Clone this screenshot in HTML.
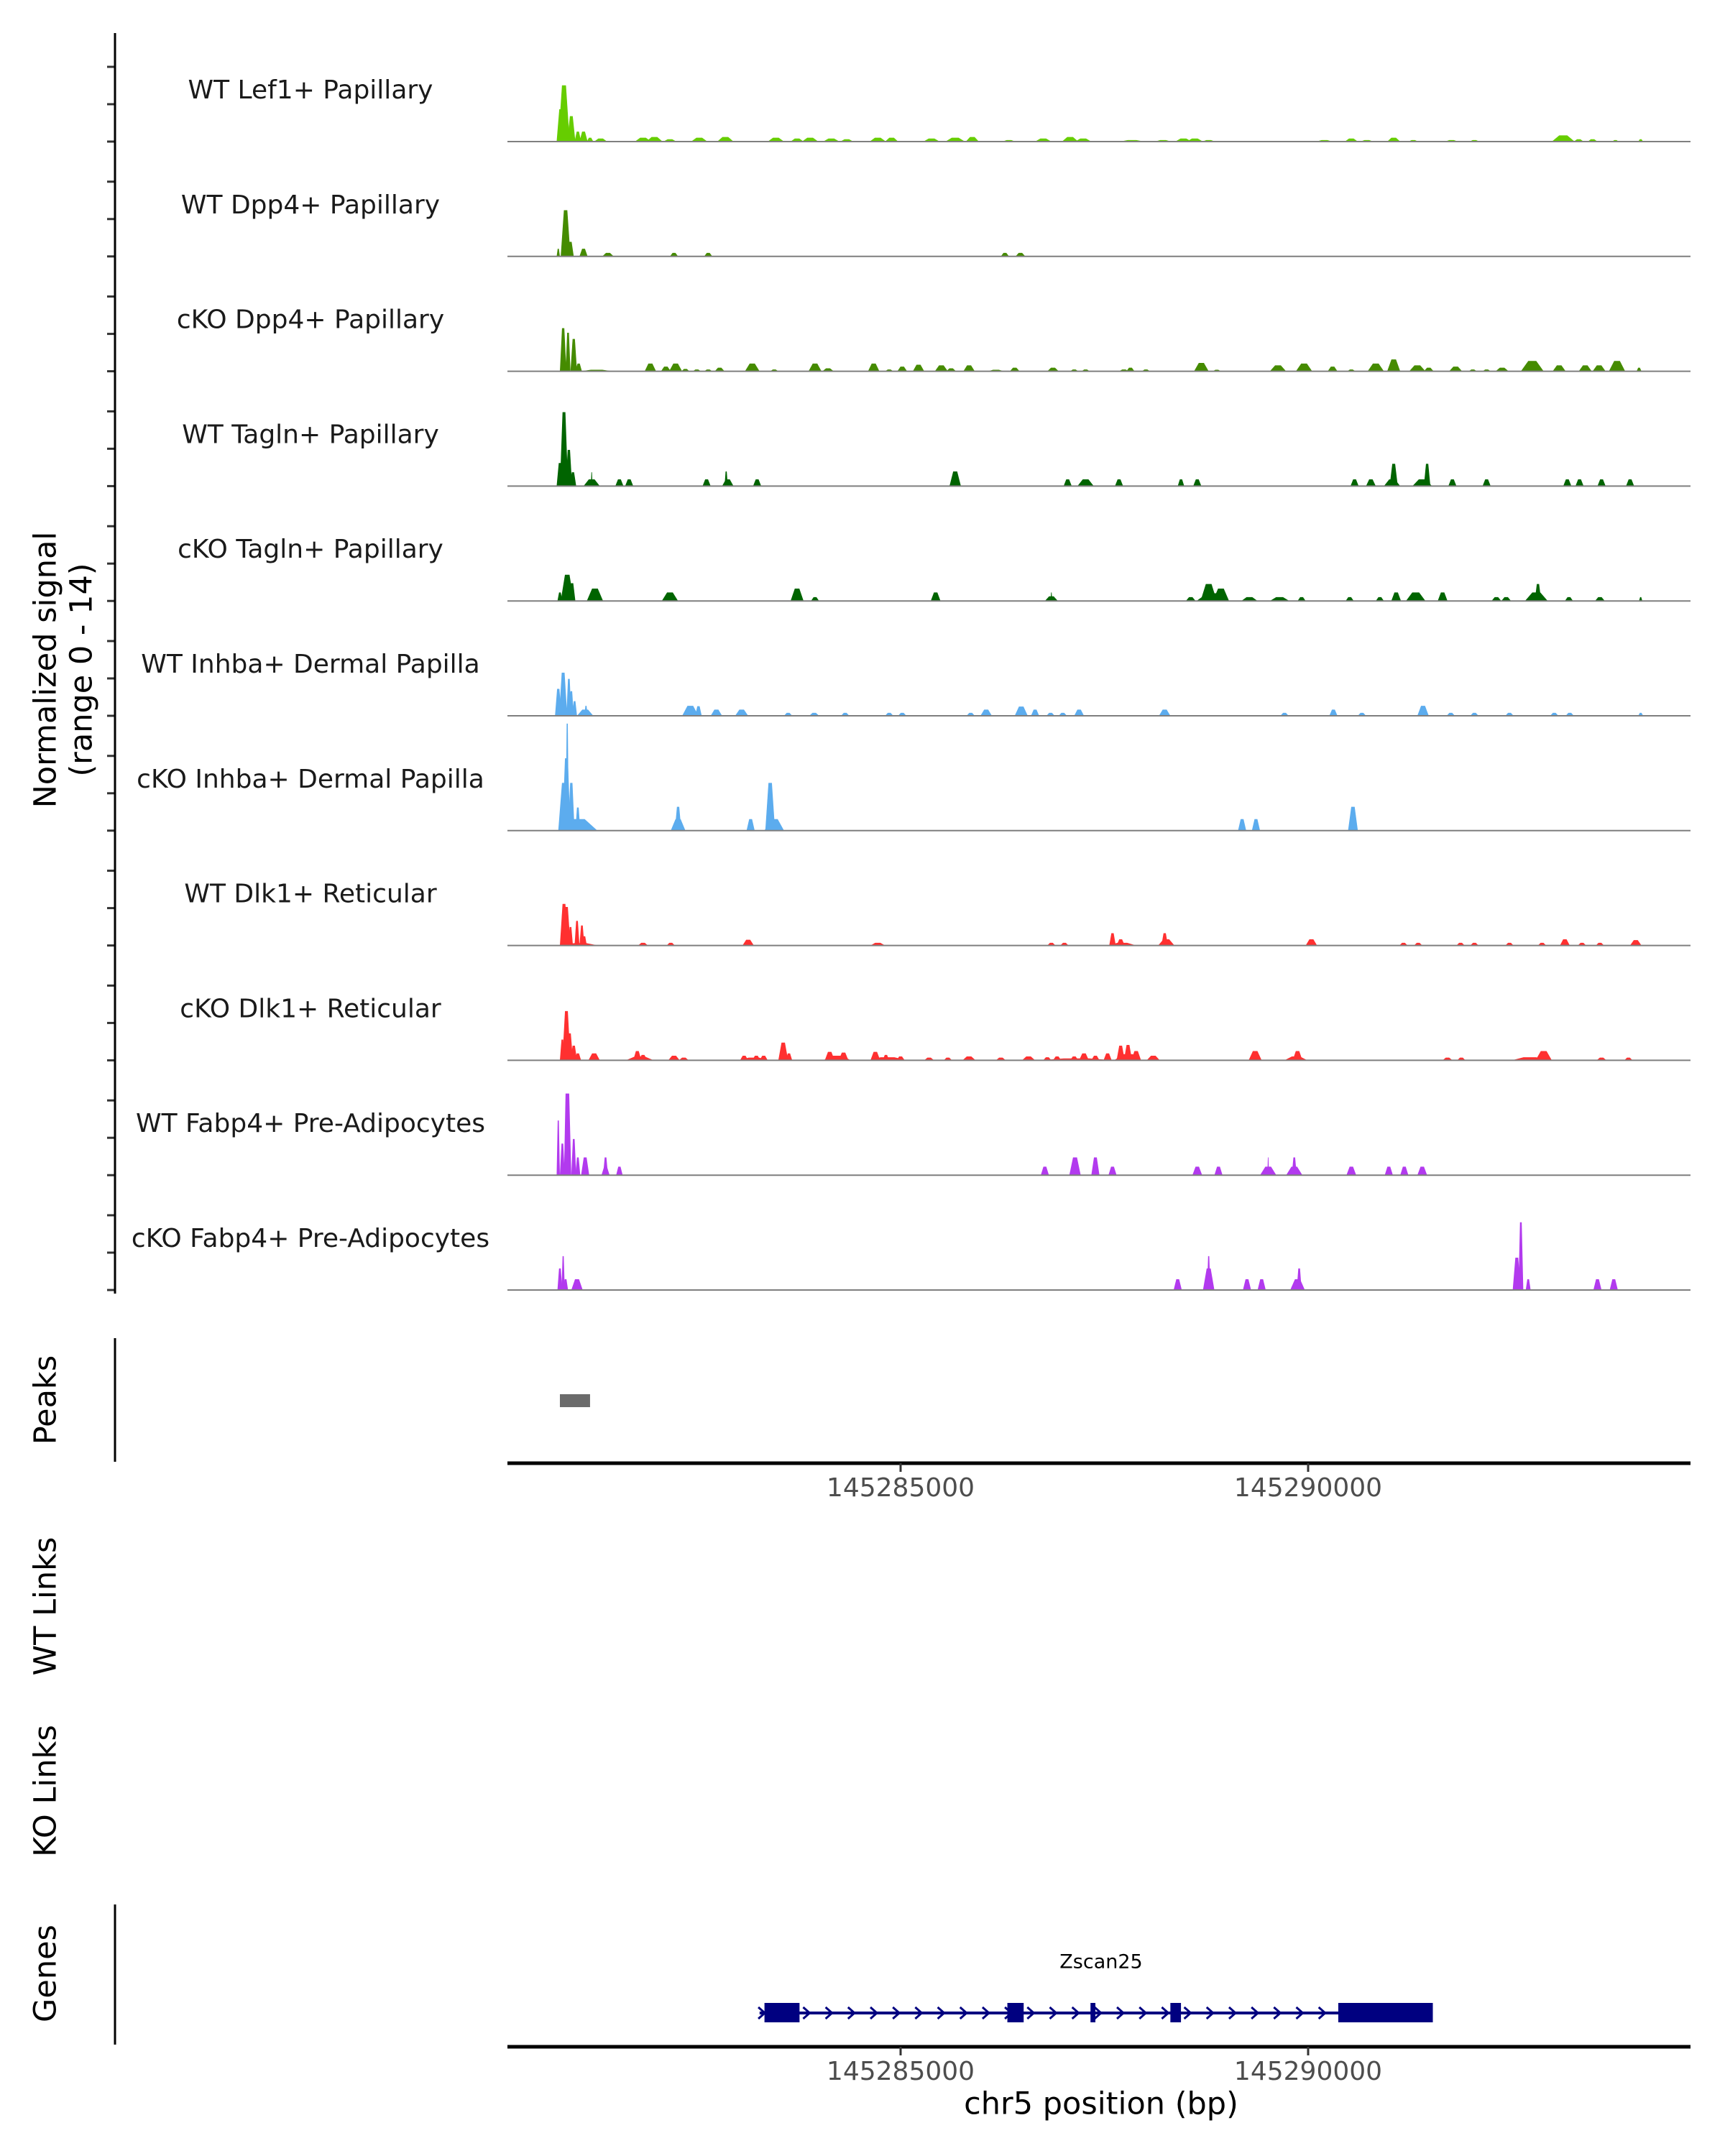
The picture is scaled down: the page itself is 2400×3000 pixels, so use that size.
<!DOCTYPE html>
<html><head><meta charset="utf-8"><style>
html,body{margin:0;padding:0;background:#fff;}
svg{display:block;font-family:"DejaVu Sans","Liberation Sans",sans-serif;}
</style></head><body>
<svg id="chart" width="2400" height="3000" viewBox="0 0 2400 3000" xmlns="http://www.w3.org/2000/svg">
<g id="tracks"></g>
<g id="axes"></g>
</svg>
<script>
// Genomic positions in kb relative to chr5:145,280,000
const trackNames = ["WT Lef1+ Papillary","WT Dpp4+ Papillary","cKO Dpp4+ Papillary","WT Tagln+ Papillary","cKO Tagln+ Papillary","WT Inhba+ Dermal Papilla","cKO Inhba+ Dermal Papilla","WT Dlk1+ Reticular","cKO Dlk1+ Reticular","WT Fabp4+ Pre-Adipocytes","cKO Fabp4+ Pre-Adipocytes"];
const trackColors = ["#66cd00","#458b00","#458b00","#006400","#006400","#5cacee","#5cacee","#ff3030","#ff3030","#b23aee","#b23aee"];
const xTicks = [5, 10];
const xTickLabels = ["145285000","145290000"];
const yRangeMax = 14;

const t1Pos = [0.87,0.83,0.96,1.04,1.11,1.19,1.32,1.84,1.98,2.17,2.53,2.85,3.47,3.73,3.89,4.15,4.34,4.72,4.89,5.38,5.67,5.88,6.33,6.75,7.08,7.24,7.84,8.22,8.47,8.61,8.78,10.2,10.53,10.72,11.05,11.29,11.76,12.04,13.13,13.32,13.49,13.77,14.08];
const t1Wid = [0.07,0.05,0.05,0.04,0.05,0.04,0.08,0.1,0.1,0.08,0.1,0.1,0.1,0.08,0.1,0.1,0.08,0.1,0.08,0.1,0.12,0.08,0.08,0.1,0.1,0.1,0.15,0.1,0.1,0.1,0.08,0.1,0.08,0.08,0.08,0.06,0.08,0.06,0.14,0.06,0.06,0.04,0.03];
const t1Val = [7.3,4.2,3.3,1.3,1.3,0.5,0.4,0.5,0.6,0.3,0.5,0.6,0.5,0.4,0.5,0.4,0.3,0.5,0.5,0.4,0.5,0.6,0.2,0.4,0.6,0.4,0.2,0.2,0.4,0.4,0.2,0.2,0.4,0.2,0.5,0.2,0.2,0.2,0.8,0.3,0.3,0.2,0.3];

const t2Pos = [0.89,0.80,0.95,1.11,1.41,2.22,2.64,6.28,6.47];
const t2Wid = [0.06,0.02,0.04,0.05,0.07,0.05,0.05,0.05,0.06];
const t2Val = [6.0,1.0,1.9,1.0,0.46,0.46,0.46,0.46,0.46];

const t3Pos = [0.86,0.92,0.99,1.05,1.27,1.93,2.12,2.24,2.36,2.50,2.64,2.78,3.18,3.45,3.95,4.11,4.67,4.86,5.02,5.22,5.50,5.62,5.84,6.17,6.40,6.87,7.13,7.27,7.74,7.82,8.01,8.69,8.88,9.63,9.95,10.30,10.53,10.83,11.05,11.34,11.48,11.81,12.02,12.19,12.38,12.75,13.08,13.40,13.57,13.79,14.06];
const t3Wid = [0.04,0.03,0.04,0.04,0.2,0.07,0.06,0.08,0.05,0.05,0.05,0.06,0.09,0.05,0.08,0.07,0.07,0.05,0.06,0.07,0.08,0.06,0.07,0.1,0.06,0.07,0.05,0.05,0.06,0.05,0.05,0.09,0.05,0.1,0.1,0.06,0.05,0.1,0.08,0.1,0.06,0.08,0.05,0.05,0.08,0.14,0.08,0.08,0.08,0.1,0.03];
const t3Val = [5.6,5.0,4.2,1.0,0.2,1.0,0.6,1.0,0.3,0.23,0.23,0.46,1.0,0.23,1.0,0.38,1.0,0.23,0.6,0.85,0.77,0.38,0.77,0.2,0.46,0.46,0.23,0.23,0.23,0.46,0.23,1.08,0.2,0.77,1.0,0.6,0.23,1.0,1.54,0.77,0.46,0.6,0.23,0.23,0.46,1.34,0.77,0.77,0.77,1.34,0.46];

const t4Pos = [0.87,0.82,0.93,0.98,1.21,1.21,1.55,1.67,2.62,2.88,2.86,3.24,5.67,7.05,7.27,7.68,8.44,8.64,10.57,10.77,11.03,11.05,11.40,11.46,11.77,12.19,13.18,13.33,13.60,13.95];
const t4Wid = [0.05,0.04,0.04,0.04,0.1,0.01,0.05,0.05,0.05,0.07,0.02,0.05,0.07,0.05,0.1,0.05,0.04,0.05,0.05,0.06,0.1,0.05,0.12,0.04,0.05,0.05,0.05,0.05,0.05,0.05];
const t4Val = [9.6,3.0,4.7,1.8,0.88,1.8,0.88,0.88,0.88,0.88,1.9,0.88,1.9,0.88,0.88,0.88,0.88,0.88,0.88,0.88,0.88,2.9,0.88,2.9,0.88,0.88,0.88,0.88,0.88,0.88];

const t5Pos = [0.91,0.97,0.82,1.25,2.17,3.73,3.95,5.43,6.85,6.85,8.56,8.78,8.93,8.83,9.28,9.65,9.92,10.51,10.88,11.08,11.32,11.65,12.31,12.43,12.80,12.82,13.20,13.58,14.08];
const t5Wid = [0.08,0.04,0.03,0.1,0.1,0.08,0.05,0.06,0.08,0.01,0.06,0.1,0.1,0.2,0.1,0.12,0.05,0.05,0.05,0.06,0.12,0.06,0.06,0.06,0.14,0.04,0.05,0.06,0.02];
const t5Val = [3.4,2.3,1.1,1.6,1.1,1.6,0.5,1.1,0.6,1.1,0.5,2.2,1.6,1.0,0.5,0.5,0.5,0.5,0.5,1.1,1.1,1.1,0.5,0.5,1.1,2.2,0.5,0.5,0.5];

const t6Pos = [0.86,0.80,0.93,0.96,1.00,1.13,1.14,2.42,2.52,2.74,3.05,3.62,3.94,4.32,4.86,5.02,5.86,6.05,6.48,6.65,6.84,6.99,7.19,8.24,9.71,10.31,10.66,11.41,11.75,12.04,12.47,13.02,13.21,14.08];
const t6Wid = [0.05,0.04,0.03,0.03,0.03,0.1,0.02,0.1,0.04,0.07,0.08,0.05,0.06,0.05,0.05,0.05,0.05,0.07,0.08,0.05,0.05,0.05,0.06,0.07,0.05,0.05,0.05,0.07,0.05,0.05,0.05,0.05,0.05,0.03];
const t6Val = [5.6,3.5,4.8,3.2,1.9,0.8,1.3,1.3,1.25,0.8,0.8,0.38,0.38,0.38,0.38,0.38,0.38,0.8,1.2,0.8,0.38,0.38,0.8,0.8,0.38,0.8,0.38,1.3,0.38,0.38,0.38,0.38,0.38,0.38];

const t7Pos = [1.04,0.91,0.90,0.87,0.96,1.04,2.27,2.27,3.16,3.45,3.40,9.19,9.36,10.55];
const t7Wid = [0.24,0.02,0.05,0.07,0.04,0.03,0.09,0.04,0.05,0.12,0.06,0.05,0.05,0.06];
const t7Val = [1.5,13.9,9.4,6.2,6.2,3.0,1.5,3.1,1.5,1.5,6.2,1.5,1.5,3.1];

const t8Pos = [0.87,0.90,0.95,1.03,1.09,1.12,1.07,1.84,2.18,3.13,3.13,4.72,6.85,7.01,7.60,7.70,7.72,8.24,8.26,10.04,11.17,11.35,11.87,12.04,12.47,12.87,13.15,13.36,13.58,14.02];
const t8Wid = [0.05,0.05,0.03,0.03,0.03,0.03,0.22,0.06,0.05,0.07,0.03,0.09,0.05,0.05,0.04,0.05,0.17,0.04,0.1,0.07,0.05,0.05,0.05,0.05,0.05,0.05,0.06,0.05,0.05,0.07];
const t8Val = [5.4,5.0,2.4,3.2,2.6,1.2,0.3,0.35,0.35,0.75,0.35,0.35,0.35,0.35,1.6,0.8,0.35,1.6,0.8,0.8,0.35,0.35,0.35,0.35,0.35,0.35,0.8,0.35,0.35,0.7];

const t9Pos = [0.85,0.90,0.94,0.99,1.04,1.24,1.77,1.84,1.80,2.22,2.34,3.08,3.23,3.32,3.20,3.56,3.63,4.13,4.30,4.22,4.69,4.84,4.82,5.00,5.35,5.58,5.84,6.23,6.57,6.80,6.92,7.13,7.25,7.39,7.54,7.16,7.70,7.79,7.89,7.79,8.10,9.35,9.87,9.85,11.71,11.88,12.72,12.89,13.60,13.93];
const t9Wid = [0.03,0.05,0.04,0.04,0.04,0.07,0.05,0.05,0.17,0.07,0.06,0.05,0.05,0.05,0.18,0.06,0.04,0.06,0.06,0.17,0.06,0.24,0.04,0.05,0.06,0.05,0.08,0.06,0.08,0.05,0.05,0.05,0.06,0.05,0.05,0.45,0.05,0.05,0.06,0.17,0.08,0.08,0.06,0.14,0.06,0.05,0.22,0.1,0.06,0.05];
const t9Val = [2.7,6.4,3.5,1.9,0.9,0.9,1.2,0.7,0.5,0.6,0.35,0.6,0.6,0.6,0.35,2.3,0.9,1.1,1.0,0.6,1.1,0.4,0.7,0.5,0.35,0.35,0.5,0.35,0.5,0.4,0.5,0.5,0.9,0.6,0.9,0.25,1.9,2.0,1.2,0.8,0.6,1.2,1.2,0.5,0.35,0.35,0.4,1.2,0.35,0.35];

const t10Pos = [0.80,0.85,0.90,0.92,0.99,1.04,1.13,1.38,1.38,1.55,6.77,7.14,7.39,7.60,8.64,8.90,9.51,9.51,9.83,9.83,10.53,10.99,11.18,11.40];
const t10Wid = [0.02,0.03,0.03,0.04,0.03,0.03,0.05,0.05,0.03,0.04,0.05,0.07,0.05,0.05,0.06,0.05,0.1,0.01,0.1,0.03,0.06,0.05,0.05,0.06];
const t10Val = [7.1,4.1,10.6,10.6,4.7,2.3,2.3,1.1,2.3,1.1,1.1,2.3,2.3,1.1,1.1,1.1,1.1,2.3,1.1,2.3,1.1,1.1,1.1,1.1];

const t11Pos = [0.82,0.86,0.89,1.03,8.40,8.78,8.78,9.25,9.43,9.87,9.89,12.61,12.56,12.70,13.55,13.75];
const t11Wid = [0.03,0.02,0.03,0.07,0.05,0.07,0.02,0.05,0.05,0.09,0.03,0.03,0.05,0.03,0.05,0.05];
const t11Val = [2.8,4.4,1.4,1.4,1.4,2.8,4.4,1.4,1.4,1.4,2.8,8.8,4.2,1.4,1.4,1.4];

const peakStarts = [0.82];
const peakEnds = [1.19];

const geneName = "Zscan25";
const geneStart = 3.27, geneEnd = 11.53;
const exonStarts = [3.33,6.31,7.33,8.31,10.37];
const exonEnds = [3.76,6.51,7.39,8.44,11.53];

const trackPos = [t1Pos,t2Pos,t3Pos,t4Pos,t5Pos,t6Pos,t7Pos,t8Pos,t9Pos,t10Pos,t11Pos];
const trackWid = [t1Wid,t2Wid,t3Wid,t4Wid,t5Wid,t6Wid,t7Wid,t8Wid,t9Wid,t10Wid,t11Wid];
const trackVal = [t1Val,t2Val,t3Val,t4Val,t5Val,t6Val,t7Val,t8Val,t9Val,t10Val,t11Val];

const NS = "http://www.w3.org/2000/svg";
const X0 = 706, X1 = 2352;
function xs(kb){ return 1253 + (kb - 5) * 113.4; }
const pxPerUnit = 150 / yRangeMax;
function baseY(i){ return 197 + i * 159.8; }
function mk(tag, attrs, parent){
  const e = document.createElementNS(NS, tag);
  for (const k in attrs) e.setAttribute(k, attrs[k]);
  parent.appendChild(e);
  return e;
}
const tracks = document.getElementById('tracks');
const axes = document.getElementById('axes');

trackNames.forEach((name, i) => {
  const by = baseY(i);
  const g = mk('g', {}, tracks);
  
  
  const lbl = mk('text', {x:432, y:by-70, 'text-anchor':'middle', 'dominant-baseline':'middle', 'font-size':36, fill:'#1a1a1a'}, g);
  lbl.textContent = name;
  
  
  const P = trackPos[i], W = trackWid[i], V = trackVal[i];
  for (let j = 0; j < P.length; j++) {
    const xl = xs(P[j] - W[j]), xr = xs(P[j] + W[j]);
    const xm1 = xs(P[j] - W[j]*0.35), xm2 = xs(P[j] + W[j]*0.35);
    const h = V[j] * pxPerUnit;
    const poly = mk('polygon', {points: `${xl},${by} ${xm1},${by-h} ${xm2},${by-h} ${xr},${by}`, fill: trackColors[i]}, g);
    
    
  }
  const bl = mk('line', {x1:X0, x2:X1, y1:by, y2:by, stroke:'#7f7f7f', 'stroke-width':2}, g);
  
  
  [0, 52, 104].forEach(o => {
    const t = mk('line', {x1:149, x2:160, y1:by-o, y2:by-o, stroke:'#333', 'stroke-width':3}, axes);
    
    
  });
});

function vline(y1, y2, name){
  const l = mk('line', {x1:160, x2:160, y1:y1, y2:y2, stroke:'#000', 'stroke-width':3}, axes);
  
  
}
vline(46, 1800, 'signal-y-axis');
vline(1862, 2034, 'peaks-y-axis');
vline(2650, 2845, 'genes-y-axis');

function rtext(x, y, s, name){
  const t = mk('text', {x:x, y:y, transform:`rotate(-90 ${x} ${y})`, 'text-anchor':'middle', 'dominant-baseline':'middle', 'font-size':43, fill:'#000'}, axes);
  t.textContent = s;
  
  
}
rtext(66, 932, 'Normalized signal', 'y-axis-title');
rtext(116, 932, '(range 0 - 14)', 'y-axis-subtitle');
rtext(66, 1948, 'Peaks', 'peaks-title');
rtext(66, 2235, 'WT Links', 'wt-links-title');
rtext(66, 2492, 'KO Links', 'ko-links-title');
rtext(66, 2746, 'Genes', 'genes-title');

peakStarts.forEach((s, i) => {
  const r = mk('rect', {x:xs(s), y:1940, width:xs(peakEnds[i])-xs(s), height:18, fill:'#6b6b6b'}, axes);
  
  
});

function xaxis(y, name){
  const l = mk('line', {x1:X0, x2:X1, y1:y, y2:y, stroke:'#000', 'stroke-width':5}, axes);
  
  
  xTicks.forEach((t, i) => {
    const tk = mk('line', {x1:xs(t), x2:xs(t), y1:y, y2:y+12, stroke:'#333', 'stroke-width':3}, axes);
    
    
    const tl = mk('text', {x:xs(t), y:y+36, 'text-anchor':'middle', 'dominant-baseline':'middle', 'font-size':36, fill:'#4d4d4d'}, axes);
    tl.textContent = xTickLabels[i];
    
    
  });
}
xaxis(2036, 'peaks-x-axis');
xaxis(2848, 'genes-x-axis');
const xt = mk('text', {x:1532, y:2930, 'text-anchor':'middle', 'dominant-baseline':'middle', 'font-size':43, fill:'#000'}, axes);
xt.textContent = 'chr5 position (bp)';



const gg = mk('g', {}, axes);


const GY = 2801;
const gl = mk('line', {x1:xs(geneStart), x2:xs(geneEnd), y1:GY, y2:GY, stroke:'#000080', 'stroke-width':4}, gg);


for (let k = geneStart + 0.02; k < geneEnd - 0.1; k += 0.275) {
  const cx = xs(k);
  const ch = mk('polyline', {points:`${cx-4},${GY-8} ${cx+5},${GY} ${cx-4},${GY+8}`, fill:'none', stroke:'#000080', 'stroke-width':3}, gg);
  
  
}
exonStarts.forEach((s, i) => {
  const r = mk('rect', {x:xs(s), y:GY-14, width:Math.max(4, xs(exonEnds[i])-xs(s)), height:27, fill:'#000080'}, gg);
  
  
});
const gn = mk('text', {x:1532, y:2731, 'text-anchor':'middle', 'dominant-baseline':'middle', 'font-size':27, fill:'#000'}, gg);
gn.textContent = geneName;


</script>
</body></html>
